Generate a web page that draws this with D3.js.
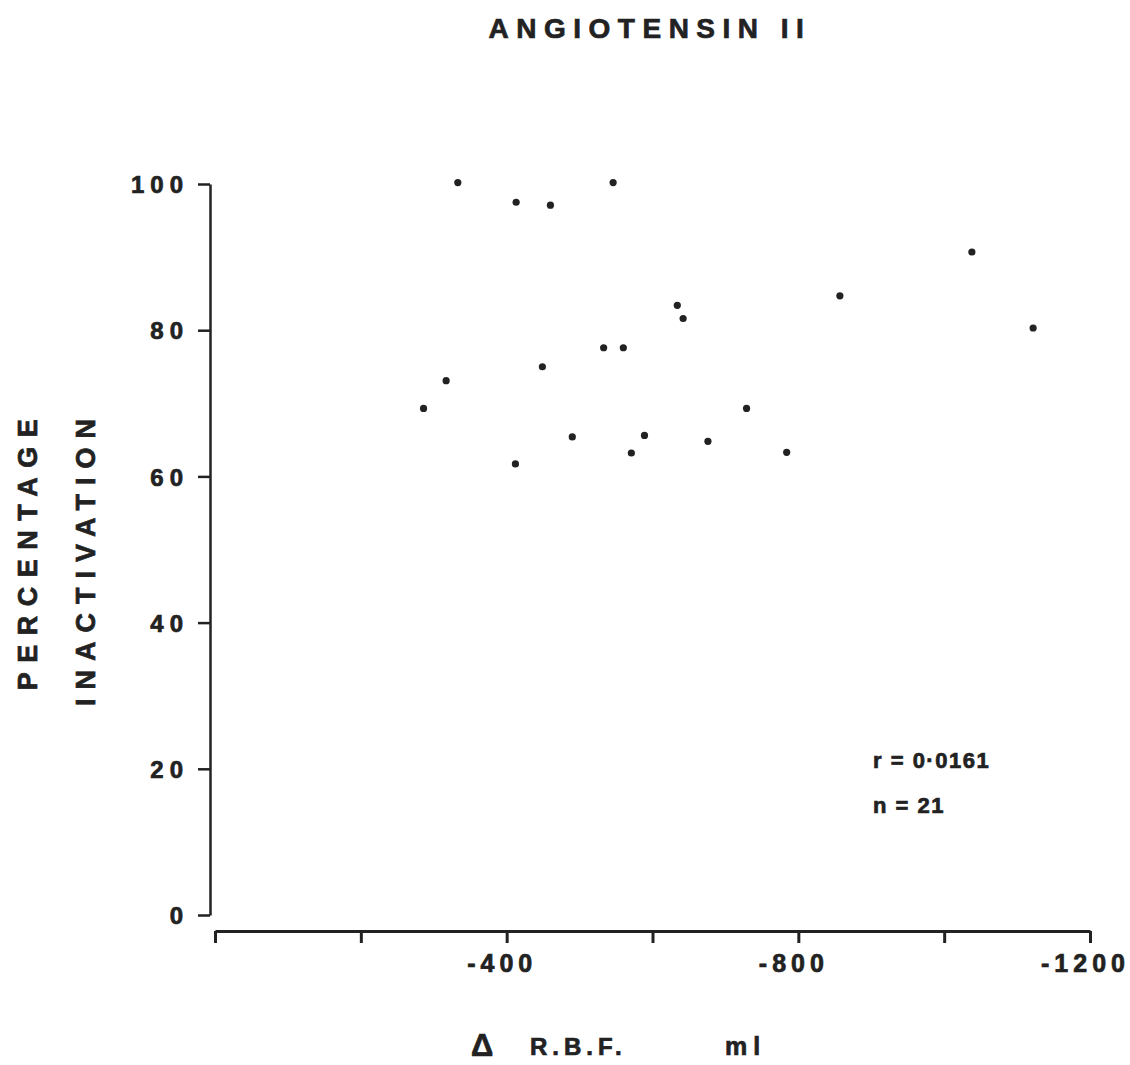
<!DOCTYPE html>
<html lang="en">
<head>
<meta charset="UTF-8">
<title>Angiotensin II</title>
<style>
    body{ margin:0; background:white; }
    svg text{ font-family:"Liberation Sans", Arial, sans-serif; font-weight:bold; fill:#222; stroke:#222; stroke-width:0.7px; }
</style>
</head>
<body>
<script src="https://d3js.org/d3.v7.min.js"></script>
<script>

// change in renal blood flow (ml) and percentage inactivation
var rbf = [-333, -546, -413, -460, -634, -642, -533, -560, -449, -317, -286,
           -490, -589, -676, -571, -412, -857, -1122, -729, -784, -1038];
var inact = [100.2, 100.2, 97.5, 97.1, 83.4, 81.6, 77.6, 77.6, 75.0, 73.1, 69.3,
             65.4, 65.6, 64.8, 63.2, 61.7, 84.7, 80.3, 69.3, 63.3, 90.7];

var yTicks = [0, 20, 40, 60, 80, 100];
var xTicks = [0, -200, -400, -600, -800, -1000, -1200];
var xLabelled = [-400, -800, -1200];

var width = 1130, height = 1065;

var svg = d3.select("body").append("svg")
        .attr("width", width)
        .attr("height", height);

var x = d3.scaleLinear().domain([0, -1200]).range([215, 1090]);
var y = d3.scaleLinear().domain([0, 100]).range([915, 184]);

// y axis
var yAx = svg.append("g")
        .attr("transform", "translate(210,0)")
        .call(d3.axisLeft(y).tickValues(yTicks).tickSize(12).tickSizeOuter(0).tickPadding(9));
yAx.select(".domain").style("stroke", "#222").style("stroke-width", 2.5);
yAx.selectAll(".tick line").style("stroke", "#222").style("stroke-width", 2.5);
yAx.selectAll(".tick text")
        .attr("dy", "0.36em")
        .style("font-size", "24px")
        .style("letter-spacing", "6px")
        .style("font-family", "'Liberation Sans', Arial, sans-serif")
        .style("font-weight", "bold")
        .style("fill", "#222")
        .style("stroke", "#222")
        .style("stroke-width", "0.7px");

// x axis
var xAx = svg.append("g")
        .attr("transform", "translate(0,931)")
        .call(d3.axisBottom(x).tickValues(xTicks).tickSize(12).tickSizeOuter(0).tickPadding(11)
            .tickFormat(function(d){ return xLabelled.indexOf(d) > -1 ? "-" + Math.abs(d) : ""; }));
xAx.select(".domain").style("stroke", "#222").style("stroke-width", 3);
xAx.selectAll(".tick line").style("stroke", "#222").style("stroke-width", 3);
xAx.selectAll(".tick text")
        .attr("dx", -5)
        .style("font-size", "25px")
        .style("letter-spacing", "5px")
        .style("font-family", "'Liberation Sans', Arial, sans-serif")
        .style("font-weight", "bold")
        .style("fill", "#222")
        .style("stroke", "#222")
        .style("stroke-width", "0.7px");

// points
svg.selectAll(".pt")
        .data(rbf)
        .enter().append("circle")
        .attr("class", "pt")
        .attr("cx", function(d){ return x(d); })
        .attr("cy", function(d, i){ return y(inact[i]); })
        .attr("r", 3.6)
        .style("fill", "#222");

// title
svg.append("text")
        .attr("x", 650).attr("y", 38)
        .attr("text-anchor", "middle")
        .style("font-size", "28px")
        .style("letter-spacing", "7.5px")
        .text("ANGIOTENSIN II");

// y label, two lines
svg.append("text")
        .attr("transform", "translate(37,550) rotate(-90)")
        .attr("text-anchor", "middle")
        .style("font-size", "27px")
        .style("letter-spacing", "9.5px")
        .text("PERCENTAGE");
svg.append("text")
        .attr("transform", "translate(95,558) rotate(-90)")
        .attr("text-anchor", "middle")
        .style("font-size", "27px")
        .style("letter-spacing", "9px")
        .text("INACTIVATION");

// x label
svg.append("text")
        .attr("x", 471).attr("y", 1056)
        .style("font-size", "31px")
        .text("Δ");
svg.append("text")
        .attr("x", 530).attr("y", 1055)
        .style("font-size", "24px")
        .style("letter-spacing", "5px")
        .text("R.B.F.");
svg.append("text")
        .attr("x", 725).attr("y", 1055)
        .style("font-size", "25px")
        .style("letter-spacing", "6px")
        .text("ml");

// stats
svg.append("text")
        .attr("x", 873).attr("y", 768)
        .style("font-size", "22px")
        .style("letter-spacing", "1.5px")
        .text("r = 0·0161");
svg.append("text")
        .attr("x", 873).attr("y", 813)
        .style("font-size", "22px")
        .style("letter-spacing", "1.5px")
        .text("n = 21");

</script>
</body>
</html>
